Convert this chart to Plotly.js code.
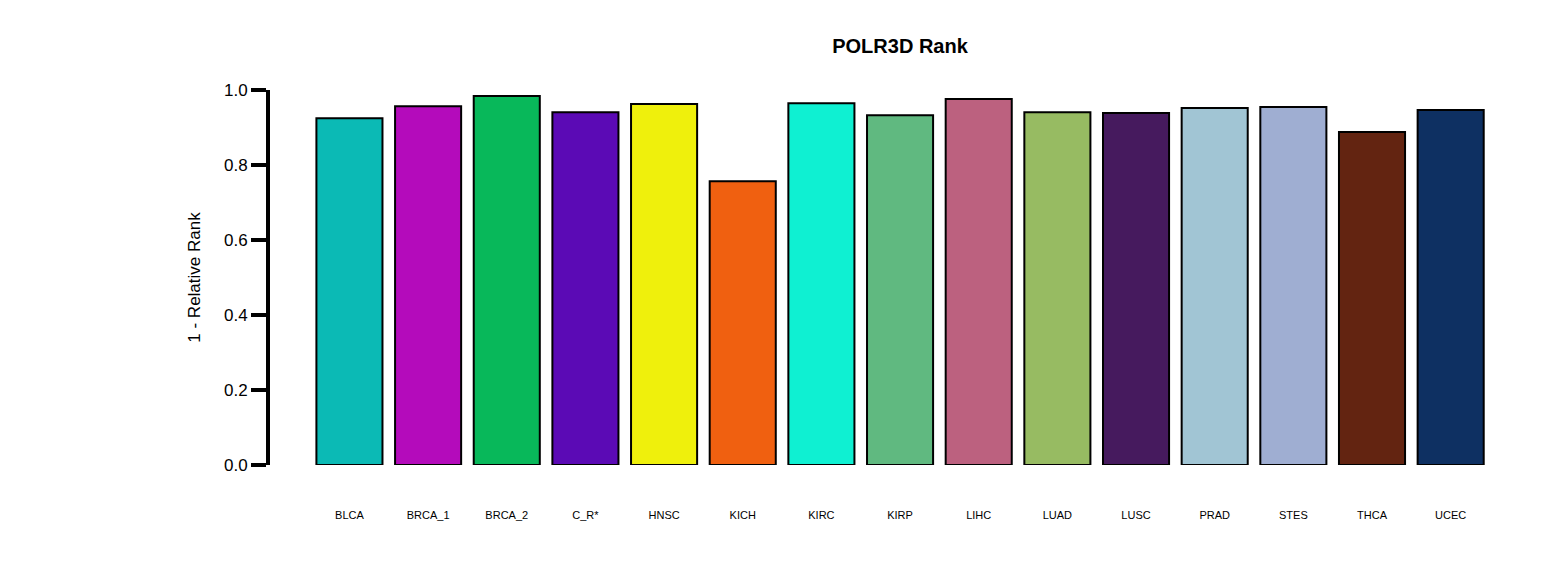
<!DOCTYPE html>
<html>
<head>
<meta charset="utf-8">
<script src="https://cdn.plot.ly/plotly-3.0.1.min.js"></script>
<style>html,body{margin:0;padding:0;background:#fff}#chart{width:1560px;height:586px}</style>
</head>
<body>
<div id="chart"></div>
<script>
// Values.
const cohorts = ["BLCA", "BRCA_1", "BRCA_2", "C_R*", "HNSC", "KICH", "KIRC", "KIRP", "LIHC", "LUAD", "LUSC", "PRAD", "STES", "THCA", "UCEC"];
const rankScore = [0.925, 0.957, 0.984, 0.941, 0.963, 0.757, 0.965, 0.933, 0.976, 0.941, 0.939, 0.952, 0.955, 0.888, 0.947];
const barColors = ["#0bbab5", "#b40bbb", "#08b85a", "#5b0ab5", "#eff00c", "#f06010", "#0ff0d2", "#60b980",
  "#bc617f", "#97bb62", "#461a5e", "#a1c5d4", "#9faed2", "#632411", "#0e3062"];
const yTicks = [0, 0.2, 0.4, 0.6, 0.8, 1.0];

const FONT = "Liberation Sans, Arial, sans-serif";

Plotly.newPlot("chart", [{
  x: cohorts.map((_, i) => i),
  y: rankScore,
  type: "bar",
  marker: { color: barColors, line: { color: "#000", width: 2 } },
  hoverinfo: "skip",
}], {
  width: 1560, height: 586,
  font: { family: FONT, color: "#000" },
  paper_bgcolor: "#fff", plot_bgcolor: "#fff",
  margin: { l: 270, r: 70, t: 90, b: 121 },
  bargap: 0.16,
  showlegend: false,
  title: { text: "<b>POLR3D Rank</b>", font: { size: 20, family: FONT }, x: 900 / 1560, xanchor: "center", y: 1 - 46 / 586, yanchor: "middle" },
  xaxis: {
    range: [-1.01, 14.5], tickmode: "array", tickvals: cohorts.map((_, i) => i), ticktext: cohorts,
    showline: false, showgrid: false, zeroline: false, ticks: "", tickfont: { size: 11 },
    ticklabelstandoff: 42,
  },
  yaxis: {
    range: [0, 1], tickmode: "array", tickvals: yTicks, ticktext: yTicks.map((v) => v.toFixed(1)),
    showline: true, linecolor: "#000", linewidth: 4, ticks: "outside", ticklen: 15, tickwidth: 4, tickcolor: "#000",
    showgrid: false, zeroline: false, tickfont: { size: 17 },
    title: { text: "1 - Relative Rank", font: { size: 17 }, standoff: 20 },
  },
}, { displayModeBar: false, staticPlot: true });
</script>
</body>
</html>
